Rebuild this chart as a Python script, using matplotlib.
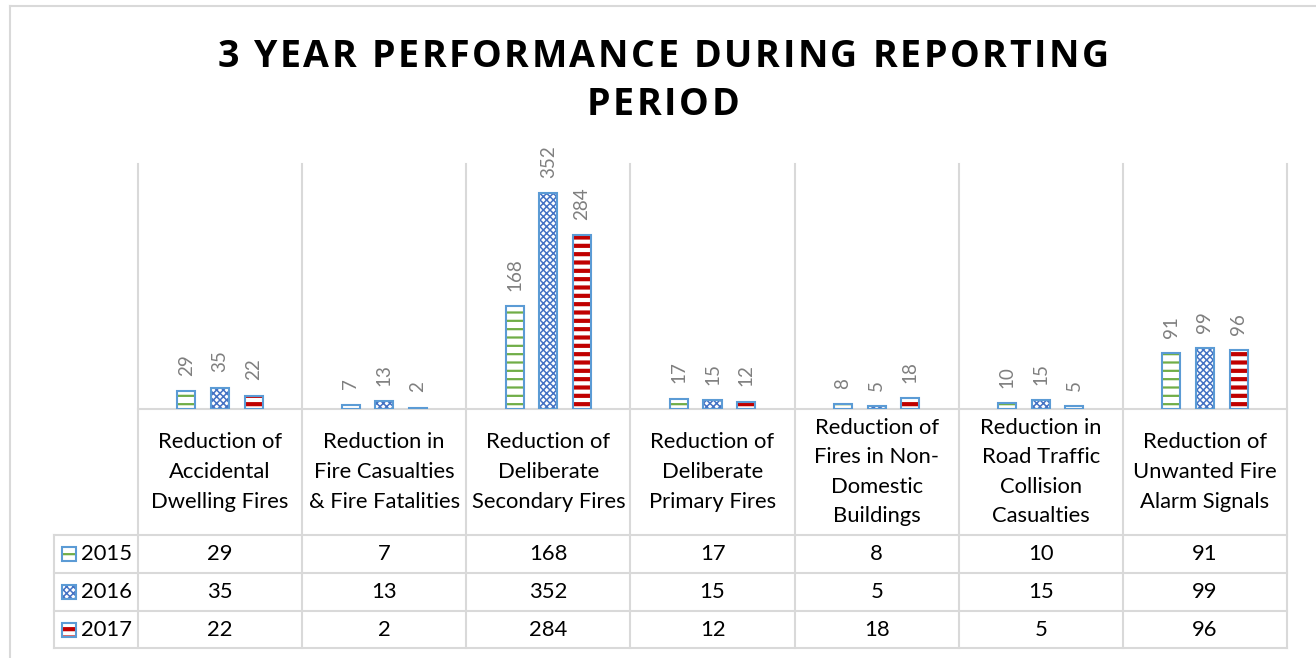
import matplotlib.pyplot as plt
import matplotlib.transforms as mtransforms
from matplotlib.patches import Rectangle
from matplotlib.lines import Line2D
import numpy as np

categories = ["Reduction of\nAccidental\nDwelling Fires",
              "Reduction in\nFire Casualties\n& Fire Fatalities",
              "Reduction of\nDeliberate\nSecondary Fires",
              "Reduction of\nDeliberate\nPrimary Fires",
              "Reduction of\nFires in Non-\nDomestic\nBuildings",
              "Reduction in\nRoad Traffic\nCollision\nCasualties",
              "Reduction of\nUnwanted Fire\nAlarm Signals"]
years = ["2015", "2016", "2017"]
v2015 = [29, 7, 168, 17, 8, 10, 91]
v2016 = [35, 13, 352, 15, 5, 15, 99]
v2017 = [22, 2, 284, 12, 18, 5, 96]
title_lines = ["3 YEAR PERFORMANCE DURING REPORTING", "PERIOD"]

series = [v2015, v2016, v2017]
# hatch colour, hatch, hatch linewidth
styles = [("#70ad47", "--", 1.6),
          ("#4472c4", "xxxxx", 1.1),
          ("#c00000", "--", 3.0)]
edge = "#5b9bd5"
grid = "#d9d9d9"
font = "Lato"
fs = 15.8

W, H = 1316, 658
fig = plt.figure(figsize=(W / 100, H / 100), dpi=100)
ax = fig.add_axes([138 / W, 1 - 409 / H, (1287 - 138) / W, (409 - 164) / H])

x = np.arange(len(categories))
offsets = [-0.205, 0, 0.205]
bw = 0.11
for vals, off, (hc, hatch, hlw) in zip(series, offsets, styles):
    with plt.rc_context({"hatch.linewidth": hlw}):
        ax.bar(x + off, vals, width=bw, color="white", edgecolor=hc,
               hatch=hatch, linewidth=0, zorder=2)
    ax.bar(x + off, vals, width=bw, fill=False, edgecolor=edge,
           linewidth=1.5, zorder=3)
    for xi, v in zip(x + off, vals):
        ax.annotate(str(v), (xi, v), xytext=(0, 11), textcoords="offset points",
                    rotation=90, ha="center", va="bottom", color="#7f7f7f",
                    fontsize=13.5, family=font)

ax.set_xlim(-0.5, len(categories) - 0.5)
ax.set_ylim(0, 400)
ax.set_xticks([])
ax.set_yticks([])
for s in ["top", "left", "right"]:
    ax.spines[s].set_visible(False)
ax.spines["bottom"].set_color(grid)
ax.spines["bottom"].set_linewidth(1.5)

# table under the chart
bt = mtransforms.blended_transform_factory(ax.transData, fig.transFigure)
fy = lambda py: 1 - py / H
fx = lambda px: px / W
row_lines = [535, 573, 611, 648]
for b in np.arange(-0.5, len(categories), 1.0):
    fig.add_artist(Line2D([b, b], [fy(164), fy(648)], transform=bt,
                          color=grid, lw=1.5))
for ry in row_lines:
    fig.add_artist(Line2D([fx(54), fx(1287)], [fy(ry), fy(ry)],
                          transform=fig.transFigure, color=grid, lw=1.5))
fig.add_artist(Line2D([fx(54), fx(54)], [fy(535), fy(648)],
                      transform=fig.transFigure, color=grid, lw=1.5))

for xi, cat in zip(x, categories):
    fig.text(xi, fy(472), cat, transform=bt, ha="center", va="center",
             fontsize=fs, family=font, linespacing=1.6)

row_centers = [554, 592, 629.5]
for yc, yr, vals, (hc, hatch, hlw) in zip(row_centers, years, series, styles):
    for xi, v in zip(x, vals):
        fig.text(xi, fy(yc), str(v), transform=bt, ha="center", va="center",
                 fontsize=fs, family=font)
    with plt.rc_context({"hatch.linewidth": hlw}):
        fig.add_artist(Rectangle((fx(62), fy(yc + 7)), 14 / W, 14 / H,
                                 transform=fig.transFigure, facecolor="white",
                                 edgecolor=hc, hatch=hatch, lw=0))
    fig.add_artist(Rectangle((fx(62), fy(yc + 7)), 14 / W, 14 / H,
                             transform=fig.transFigure, fill=False,
                             edgecolor=edge, lw=1.5))
    fig.text(fx(81), fy(yc), yr, ha="left", va="center",
             fontsize=fs, family=font)

# title with letter spacing, drawn one char at a time
renderer = fig.canvas.get_renderer()
tkw = dict(fontsize=27, fontweight="bold", family="Open Sans")
spacing = 2.6  # px between letters


def text_width(s):
    if not s:
        return 0.0
    t = fig.text(0, 0, s.replace(" ", "\u00a0"), **tkw)
    w = t.get_window_extent(renderer).width
    t.remove()
    return w


for line, base in zip(title_lines, [67, 115]):
    total = text_width(line) + spacing * (len(line) - 1)
    x0 = 663 - total / 2
    for i, ch in enumerate(line):
        if ch == " ":
            continue
        px = x0 + text_width(line[:i]) + spacing * i
        fig.text(fx(px), fy(base), ch, ha="left", va="baseline", **tkw)

# chart area border
fig.add_artist(Line2D([fx(10), fx(10)], [fy(6), 0], transform=fig.transFigure,
                      color=grid, lw=1.5))
fig.add_artist(Line2D([fx(10), 1], [fy(6), fy(6)], transform=fig.transFigure,
                      color=grid, lw=1.5))

fig.savefig("out.png", dpi=100)
